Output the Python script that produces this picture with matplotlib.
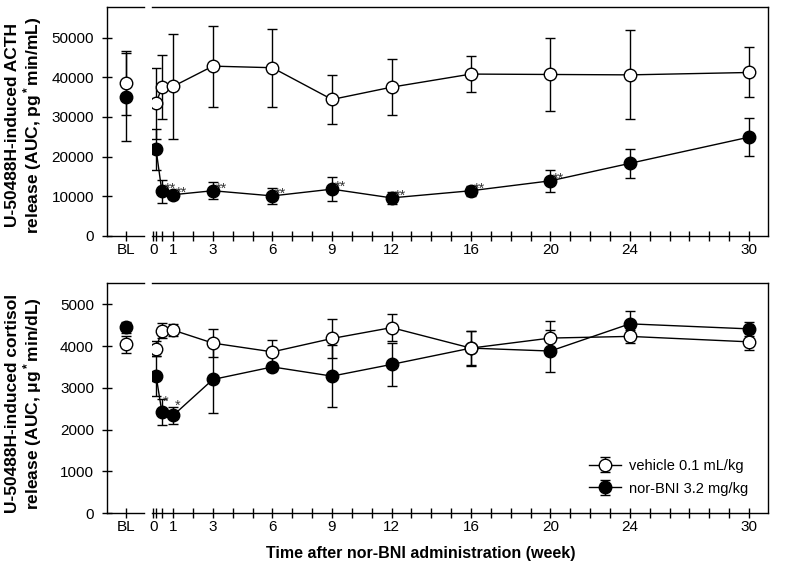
import matplotlib.pyplot as plt
import numpy as np

plt.rcParams['font.family'] = ['Liberation Sans', 'DejaVu Sans']
plt.rcParams['mathtext.fontset'] = 'custom'
plt.rcParams['mathtext.rm'] = 'Liberation Sans:bold'
plt.rcParams['mathtext.it'] = 'Liberation Sans:bold'
plt.rcParams['mathtext.bf'] = 'Liberation Sans:bold'

# time after nor-BNI (weeks), first two points are 1 day and 3 days
weeks = [0.14, 0.43, 1, 3, 6, 9, 12, 16, 20, 24, 30]
week_labels = [0, 1, 3, 6, 9, 12, 16, 20, 24, 30]
week_minor = [0.14, 0.43] + [w for w in range(2, 30) if w not in week_labels]

# ACTH (AUC, pg*min/mL)
acth_bl_veh, acth_bl_veh_err = 38600, 8000
acth_bl_nor, acth_bl_nor_err = 35000, 11000
acth_veh = [33400, 37500, 37700, 42800, 42400, 34400, 37500, 40800, 40700, 40600, 41200]
acth_veh_err = [9000, 8000, 13300, 10200, 9800, 6200, 7000, 4500, 9200, 11200, 6300]
acth_nor = [21800, 11300, 10400, 11400, 10100, 11800, 9600, 11400, 13900, 18300, 24900]
acth_nor_err = [5200, 2900, 1000, 2100, 2000, 3100, 1600, 1300, 2700, 3700, 4800]
acth_stars = [1, 2, 3, 4, 5, 6, 7, 8]

# cortisol (AUC, ug*min/dL)
cort_bl_veh, cort_bl_veh_err = 4040, 210
cort_bl_nor, cort_bl_nor_err = 4450, 130
cort_veh = [3940, 4370, 4380, 4070, 3860, 4180, 4440, 3950, 4190, 4230, 4100]
cort_veh_err = [180, 170, 150, 330, 280, 460, 330, 420, 410, 150, 200]
cort_nor = [3290, 2430, 2340, 3200, 3500, 3280, 3560, 3950, 3880, 4530, 4410]
cort_nor_err = [480, 310, 200, 810, 100, 740, 510, 400, 500, 310, 160]
cort_stars = [1, 2]

veh_style = dict(fmt='-o', color='black', mfc='white', mec='black')
nor_style = dict(fmt='-o', color='black', mfc='black', mec='black')
common = dict(ms=9, mew=1, lw=1, elinewidth=1, capsize=3.5, capthick=1)


def panel(fig, bottom, height, ymax, yticks,
          bl_veh, bl_veh_err, bl_nor, bl_nor_err,
          veh, veh_err, nor, nor_err, stars, star_txt, star_off, ylabel, ylabel_y):
    ax_bl = fig.add_axes([0.134, bottom, 0.046, height])
    ax = fig.add_axes([0.19, bottom, 0.77, height])

    # baseline part
    ax_bl.errorbar([0.51], [bl_nor], yerr=[bl_nor_err], zorder=2, **nor_style, **common)
    ax_bl.errorbar([0.51], [bl_veh], yerr=[bl_veh_err], zorder=3, **veh_style, **common)
    ax_bl.set_xlim(0, 1)
    ax_bl.set_ylim(0, ymax)
    ax_bl.set_xticks([0.51])
    ax_bl.set_xticklabels(['BL'])
    ax_bl.set_yticks(yticks)
    ax_bl.spines['right'].set_visible(False)

    # time course part
    ax.errorbar(weeks, nor, yerr=nor_err, zorder=2, label='nor-BNI 3.2 mg/kg', **nor_style, **common)
    ax.errorbar(weeks, veh, yerr=veh_err, zorder=3, label='vehicle 0.1 mL/kg', **veh_style, **common)
    for i in stars:
        ax.annotate(star_txt, (weeks[i], nor[i]), xytext=star_off, textcoords='offset points',
                    ha='left', va='center', fontsize=10.5, color='#333333')
    ax.set_xlim(-0.065, 30.96)
    ax.set_ylim(0, ymax)
    ax.set_xticks(week_labels)
    ax.set_xticks(week_minor, minor=True)
    ax.spines['left'].set_visible(False)
    ax.tick_params(axis='y', left=False, labelleft=False)

    for a in (ax_bl, ax):
        a.tick_params(which='both', direction='inout', length=7, width=1, labelsize=11)
        a.tick_params(axis='x', pad=1.5)
        a.tick_params(axis='y', pad=6)
        for s in a.spines.values():
            s.set_linewidth(1)
    fig.text(0.0305, ylabel_y, ylabel, rotation=90, ha='center', va='center',
             fontsize=12.5, fontweight='bold', linespacing=1.1)
    return ax


fig = plt.figure(figsize=(8, 5.7), dpi=100)

panel(fig, 0.586, 0.4017, 57700, [0, 10000, 20000, 30000, 40000, 50000],
      acth_bl_veh, acth_bl_veh_err, acth_bl_nor, acth_bl_nor_err,
      acth_veh, acth_veh_err, acth_nor, acth_nor_err, acth_stars, '**', (2, 1.5),
      'U-50488H-induced ACTH\nrelease (AUC, pg$^*$min/mL)', 0.781)

ax2 = panel(fig, 0.0995, 0.4035, 5500, [0, 1000, 2000, 3000, 4000, 5000],
            cort_bl_veh, cort_bl_veh_err, cort_bl_nor, cort_bl_nor_err,
            cort_veh, cort_veh_err, cort_nor, cort_nor_err, cort_stars, '*', (1, 7),
            'U-50488H-induced cortisol\nrelease (AUC, \u03bcg$^*$min/dL)', 0.292)

handles, labels = ax2.get_legend_handles_labels()
ax2.legend(handles[::-1], labels[::-1], loc='lower right', bbox_to_anchor=(0.99, 0.02),
           frameon=False, fontsize=10.5, handlelength=2.2, handletextpad=0.6, labelspacing=0.6)

fig.text(0.526, 0.0298, 'Time after nor-BNI administration (week)', ha='center', va='center',
         fontsize=11.5, fontweight='bold')

fig.savefig('out.png', dpi=100)
